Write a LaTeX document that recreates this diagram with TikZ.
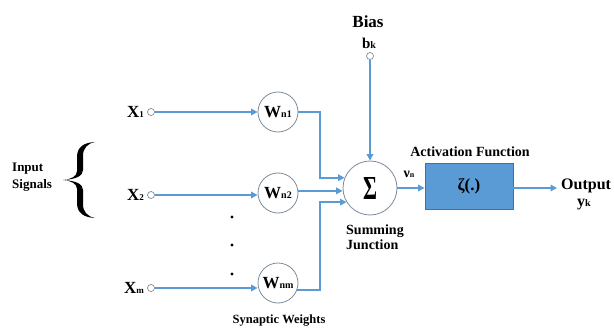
\documentclass[tikz,border=0pt]{standalone}
\usepackage{fontspec}
\usepackage{graphicx}
\setmainfont{Liberation Serif}
\usetikzlibrary{arrows.meta,calc}
\definecolor{wire}{HTML}{5B9BD5}
\definecolor{boxedge}{HTML}{41719C}
\definecolor{ring}{HTML}{7F8C9A}
\newcommand{\fs}[1]{\fontsize{#1}{#1}\selectfont}
\newcommand{\symsub}[4]{{\fs{#1}#2}{\fs{#3}#4}}

\begin{document}
\begin{tikzpicture}[x=1pt,y=-1pt,
  every node/.style={font=\bfseries, inner sep=0pt},
  weight/.style={circle, draw=ring, line width=0.8pt, minimum size=40pt, fill=white},
  summer/.style={circle, draw=ring, line width=0.8pt, minimum size=54pt, fill=white},
  port/.style={circle, draw=ring, line width=0.7pt, minimum size=7pt},
  actbox/.style={rectangle, draw=boxedge, line width=0.8pt, fill=wire,
                 minimum width=88pt, minimum height=46pt},
  wirearrow/.style={draw=wire, line width=1.8pt,
                    -{Triangle[length=6.5pt,width=6.5pt]}},
  twoline/.style={align=left, anchor=west}]

  % canvas
  \fill[white] (0,0) rectangle (614,329);
  \useasboundingbox (0,0) rectangle (614,329);

  % input labels and ports
  \node[anchor=east] (x1) at (144,112) {\symsub{17}{X}{9}{1}};
  \node[anchor=east] (x2) at (144,195) {\symsub{17}{X}{9}{2}};
  \node[anchor=east] (xm) at (144,288) {\symsub{17}{X}{9}{m}};
  \node[port] (p1) at (151,112) {};
  \node[port] (p2) at (151,195) {};
  \node[port] (p3) at (151,288) {};

  % input signals label and its curly brace
  \node[twoline, font=\bfseries\fontsize{13}{17}\selectfont] (insig) at (12,177)
       {Input\\Signals};
  \fill (95,142)
    .. controls (84,142.5) and (77,147) .. (77,157)
    -- (77,171)
    .. controls (77,176.5) and (71,179.3) .. (63,180)
    .. controls (71,180.7) and (77,183.5) .. (77,189)
    -- (77,203)
    .. controls (77,213) and (84,217.5) .. (95,218)
    .. controls (87.5,216.5) and (83,212) .. (83,204)
    -- (83,190)
    .. controls (83,184) and (76,180.7) .. (63,180)
    .. controls (76,179.3) and (83,176) .. (83,170)
    -- (83,156)
    .. controls (83,148) and (87.5,143.5) .. (95,142) -- cycle;

  % synaptic weights
  \node[weight] (wn1) at (278,112) {\symsub{17}{W}{10}{n1}};
  \node[weight] (wn2) at (278,193) {\symsub{17}{W}{10}{n2}};
  \node[weight] (wnm) at (278,283) {\symsub{17}{W}{10}{nm}};
  \node (synw) at (279,321) {\fs{12.5}Synaptic Weights};

  % dots between the weights
  \fill (232,217) circle (1.6);
  \fill (232,245) circle (1.6);
  \fill (232,274) circle (1.6);

  % summing junction
  \node[summer] (sum) at (370,188) {\resizebox{14pt}{22pt}{Σ}};
  \node[twoline, font=\bfseries\fontsize{14}{15}\selectfont] (sumlbl) at (346,237)
       {Summing\\Junction};

  % bias
  \node (bias) at (368,22) {\fs{17}Bias};
  \node (bk) at (369,43) {\symsub{15}{b}{10}{k}};
  \node[port] (pb) at (370,56) {};

  % activation function
  \node[actbox] (act) at (469,186) {\fs{17}ζ(.)};
  \node (actlbl) at (470,152) {\fs{14}Activation Function};
  \node (vn) at (409,174) {\symsub{14}{ν}{8}{n}};

  % output
  \coordinate (out) at (557,188);
  \node[anchor=west] (outlbl) at (561,186) {\fs{16}Output};
  \node (yk) at (584,205) {\symsub{16}{y}{10}{k}};

  % connectors
  \coordinate (bus) at (320,0);
  \draw[wirearrow] (p1) -- (wn1);
  \draw[wirearrow] (p2) -- (p2 -| wn2.west);
  \draw[wirearrow] (p3) -- (p3 -| wnm.west);
  \draw[wirearrow] (wn1.east) -| (bus |- sum.158) -- (sum.158);
  \draw[wirearrow] (wn2.6) -- (wn2.6 -| sum.west);
  \draw[wirearrow] (wnm.-20) -| (bus |- sum.211) -- (sum.211);
  \draw[wirearrow] (pb) -- (sum);
  \draw[wirearrow] (sum.east) -- (sum.east -| act.west);
  \draw[wirearrow] (act.east |- out) -- (out);
\end{tikzpicture}
\end{document}
